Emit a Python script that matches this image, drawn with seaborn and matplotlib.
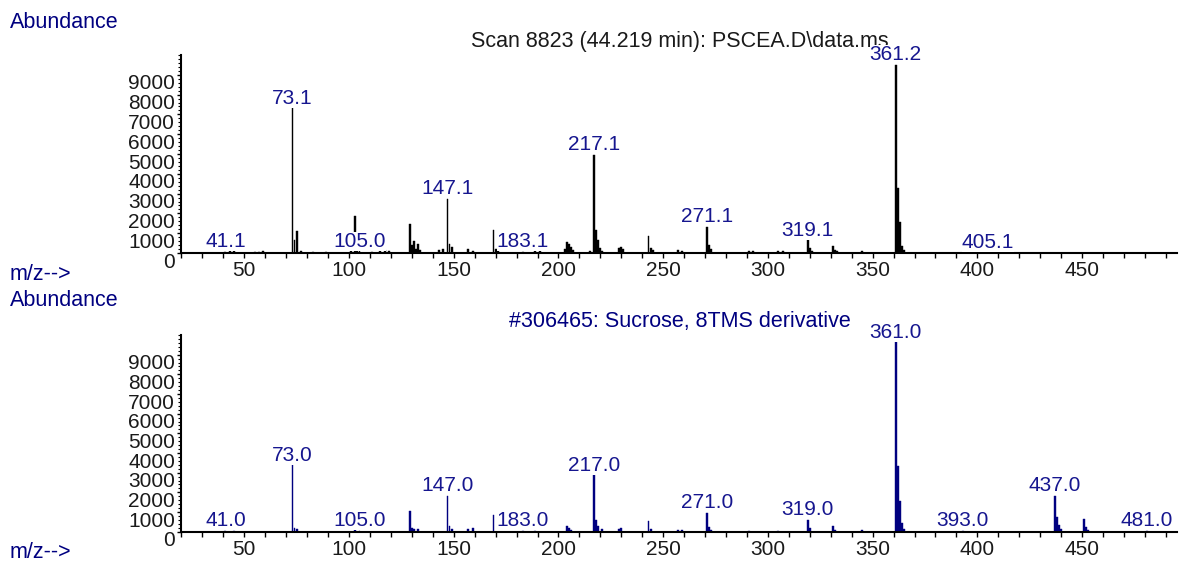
import numpy as np
import pandas as pd
import matplotlib
matplotlib.use('Agg')
import matplotlib.pyplot as plt
import seaborn as sns
from matplotlib.ticker import FixedLocator, MultipleLocator
from matplotlib.transforms import ScaledTranslation

# measured spectrum (scan 8823)
scan_mz = [41, 43, 45, 55, 57, 59, 73, 74, 75, 77, 83, 89, 101, 103, 104, 105,
           111, 115, 117, 119, 129, 130, 131, 132, 133, 134, 143, 145, 147, 148,
           149, 157, 159, 169, 170, 171, 183, 189, 191, 203, 204, 205, 206, 207,
           215, 217, 218, 219, 220, 221, 229, 230, 231, 243, 244, 245, 257, 259,
           271, 272, 273, 291, 293, 305, 307, 319, 320, 321, 331, 332, 333, 345,
           361, 362, 363, 364, 365, 405]
scan_abund = [60, 80, 100, 60, 60, 80, 7320, 650, 1120, 80, 60, 60, 80, 1850, 150, 100,
              60, 100, 150, 80, 1440, 400, 600, 200, 450, 150, 150, 200, 2750, 450,
              300, 200, 100, 1160, 200, 100, 60, 100, 150, 200, 550, 450, 300, 150,
              100, 4960, 1150, 650, 250, 100, 250, 300, 200, 840, 250, 150, 150, 100,
              1320, 400, 200, 80, 80, 100, 100, 640, 250, 100, 340, 150, 80, 80,
              9500, 3300, 1570, 370, 150, 40]
scan_labels = ['41.1', '73.1', '105.0', '147.1', '183.1', '217.1', '271.1',
               '319.1', '361.2', '405.1']
scan_label_mz = [41, 73, 105, 147, 183, 217, 271, 319, 361, 405]
scan_title = r'Scan 8823 (44.219 min): PSCEA.D\data.ms'

# library spectrum (#306465)
lib_mz = [41, 45, 73, 74, 75, 103, 105, 129, 130, 131, 133, 147, 148, 149, 157,
          159, 169, 183, 189, 204, 205, 206, 217, 218, 219, 221, 229, 230, 243,
          244, 257, 259, 271, 272, 273, 291, 305, 319, 320, 331, 332, 345, 361,
          362, 363, 364, 365, 393, 437, 438, 439, 440, 451, 452, 453, 481]
lib_abund = [50, 50, 3370, 200, 150, 100, 50, 1035, 200, 150, 150, 1840, 300, 150, 150,
             200, 870, 50, 50, 270, 200, 100, 2860, 610, 300, 150, 150, 200, 525,
             150, 80, 80, 955, 250, 100, 50, 60, 610, 200, 305, 100, 100, 9630,
             3330, 1550, 445, 150, 50, 1840, 750, 360, 150, 650, 250, 100, 50]
lib_labels = ['41.0', '73.0', '105.0', '147.0', '183.0', '217.0', '271.0',
              '319.0', '361.0', '393.0', '437.0', '481.0']
lib_label_mz = [41, 73, 105, 147, 183, 217, 271, 319, 361, 393, 437, 481]
lib_title = '#306465: Sucrose, 8TMS derivative'

x_ticks = [50, 100, 150, 200, 250, 300, 350, 400, 450]
y_ticks = [0, 1000, 2000, 3000, 4000, 5000, 6000, 7000, 8000, 9000]

sns.set_style('ticks')
plt.rcParams['font.family'] = ['Liberation Sans', 'DejaVu Sans']

NAVY = '#000080'
LABEL_BLUE = '#16168f'
DARK = '#1a1a1a'

fig = plt.figure(figsize=(11.82, 5.68), dpi=100)
ax_top = fig.add_axes([0.1535, 0.5546, 0.8426, 0.3486])
ax_bot = fig.add_axes([0.1535, 0.0639, 0.8426, 0.3463])


def draw_spectrum(ax, mz, abund, color, labels, label_mz, title, title_color):
    df = pd.DataFrame({'mz': mz, 'abundance': abund})
    sns.histplot(data=df, x='mz', weights='abundance', discrete=True, shrink=0.9,
                 color=color, alpha=1, edgecolor=color, linewidth=0.3, ax=ax)
    heights = dict(zip(mz, abund))
    for txt, m in zip(labels, label_mz):
        ax.annotate(txt, xy=(m, heights.get(m, 0)), xytext=(0, 3.2),
                    textcoords='offset points', ha='center', va='baseline',
                    fontsize=15, color=LABEL_BLUE, zorder=6, annotation_clip=False,
                    bbox=dict(facecolor='white', edgecolor='none', pad=0))
    ax.annotate(title, xy=(0.5, 1.0), xycoords='axes fraction', xytext=(0, 10),
                textcoords='offset points', ha='center', va='center',
                fontsize=15.5, color=title_color, zorder=3)

    ax.set_xlim(20, 495.5)
    ax.set_ylim(0, 10000)
    ax.set_xlabel('')
    ax.set_ylabel('')
    sns.despine(ax=ax)
    for side in ['left', 'bottom']:
        ax.spines[side].set_linewidth(1.5)
        ax.spines[side].set_color('black')
    ax.xaxis.set_major_locator(FixedLocator(x_ticks))
    ax.xaxis.set_minor_locator(MultipleLocator(10))
    ax.yaxis.set_major_locator(FixedLocator(y_ticks))
    ax.yaxis.set_minor_locator(MultipleLocator(200))
    ax.tick_params(axis='x', which='both', length=3.6, width=1.0, color='black',
                   direction='out', pad=2.3, labelsize=15, labelcolor=DARK)
    ax.tick_params(axis='y', which='major', length=3.0, width=1.0, color='black',
                   direction='out', pad=1.5, labelsize=15, labelcolor=DARK)
    ax.tick_params(axis='y', which='minor', length=2.0, width=0.8, color='black',
                   direction='out')
    ax.set_xticklabels([str(t) for t in x_ticks])
    ax.set_yticklabels([str(t) for t in y_ticks])
    shift = ScaledTranslation(0, -0.072, fig.dpi_scale_trans)
    for tick in ax.yaxis.get_major_ticks():
        tick.label1.set_transform(tick.label1.get_transform() + shift)


draw_spectrum(ax_top, scan_mz, scan_abund, 'black', scan_labels, scan_label_mz,
              scan_title, DARK)
draw_spectrum(ax_bot, lib_mz, lib_abund, NAVY, lib_labels, lib_label_mz,
              lib_title, NAVY)

for y_abund, y_mz in [(22, 275), (301, 552)]:
    fig.text(10 / 1182, 1 - y_abund / 568, 'Abundance', ha='left', va='center',
             fontsize=15.5, color=NAVY)
    fig.text(10 / 1182, 1 - y_mz / 568, 'm/z-->', ha='left', va='center',
             fontsize=15.5, color=NAVY)

fig.savefig('out.png', dpi=100, facecolor='white')
